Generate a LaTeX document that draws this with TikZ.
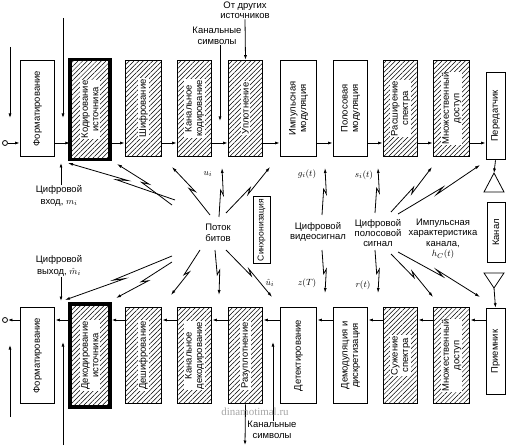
\documentclass[tikz,border=0pt]{standalone}
\usepackage{fontspec}
\setmainfont{Liberation Sans}
\newfontfamily\wmfont{Liberation Serif}
\usetikzlibrary{calc,patterns.meta,arrows.meta}
\newcommand\blk[7]{%
  \node[#2, minimum width=#5, minimum height=#6] (#1) at (#3,#4) {};
  \node[lab] (#1t) at (#1) {#7};}
\newcommand\hblk[7]{%
  \node[#2, minimum width=#5, minimum height=#6] (#1) at (#3,#4) {};
  \node[hlab] (#1t) at (#1) {#7};}
\newcommand\bolt[3]{\draw[boltst] (#1) -- ($(#1)!0.55!(#2)$) -- ($(#1)!0.45!(#2)!3bp!#3:(#2)$) -- (#2);}
\begin{document}
\begin{tikzpicture}[x=1bp,y=-1bp,
  txt/.style={font=\fontsize{9.5}{10.5}\selectfont, align=center, inner sep=0.5bp},
  lab/.style={txt, rotate=90, inner sep=1bp},
  hlab/.style={lab, fill=white},
  box/.style={draw, line width=0.9bp, inner sep=0, fill=white},
  hbox/.style={draw, line width=0.9bp, inner sep=0, pattern={Lines[angle=45,distance=3.3bp,line width=0.5bp]}},
  kbox/.style={draw, line width=3.6bp, inner sep=0, pattern={Lines[angle=45,distance=3.3bp,line width=0.5bp]}},
  conn/.style={-{Latex[length=4.5bp,width=3bp]}, line width=0.8bp},
  boltst/.style={-{Latex[length=5bp,width=3bp]}, line width=0.8bp}]
\useasboundingbox (0,0) rectangle (506,447);
% ---- top row
\blk{fT}{box}{37.5}{108.5}{35}{97}{Форматирование}
\hblk{kT}{kbox}{90}{109.5}{40}{100}{Кодирование\\источника}
\hblk{shT}{hbox}{143.5}{108.5}{37}{97}{Шифрование}
\hblk{kkT}{hbox}{194.5}{108.5}{35}{97}{Канальное\\кодирование}
\hblk{uT}{hbox}{245.5}{108.5}{35}{97}{Уплотнение}
\blk{imT}{box}{298.5}{108.5}{37}{97}{Импульсная\\модуляция}
\blk{poT}{box}{350.5}{108.5}{35}{97}{Полосовая\\модуляция}
\hblk{rsT}{hbox}{400.5}{108.5}{35}{97}{Расширение\\спектра}
\hblk{mdT}{hbox}{451.5}{108.5}{37}{97}{Множественный\\доступ}
\blk{trT}{box}{495.5}{116}{19}{88}{Передатчик}
% ---- bottom row
\blk{fB}{box}{37.5}{355.5}{35}{97}{Форматирование}
\hblk{kB}{kbox}{90}{355.5}{40}{103}{Декодирование\\источника}
\hblk{shB}{hbox}{143.5}{355.5}{37}{97}{Дешифрование}
\hblk{kkB}{hbox}{194.5}{355.5}{35}{97}{Канальное\\декодирование}
\hblk{uB}{hbox}{245.5}{355.5}{35}{97}{Разуплотнение}
\blk{dtB}{box}{298.5}{355.5}{37}{97}{Детектирование}
\blk{dmB}{box}{350.5}{355.5}{35}{97}{Демодуляция и\\дискретизация}
\hblk{ssB}{hbox}{400.5}{355.5}{35}{97}{Сужение\\спектра}
\hblk{mdB}{hbox}{451.5}{355.5}{37}{97}{Множественный\\доступ}
\blk{rcB}{box}{495.5}{351.5}{19}{87}{Приемник}
% ---- middle boxes
\node[box, minimum width=17, minimum height=67] (sync) at (261.5,230) {};
\node[lab, font=\fontsize{8.6}{9.5}\selectfont] (synct) at (sync) {Синхронизация};
\blk{chan}{box}{496}{232.5}{18}{61}{Канал}
% ---- connectors
\coordinate (cyT) at (0,143);
\coordinate (cyB) at (0,320);
\node[circle, draw, line width=0.8bp, minimum size=5bp, inner sep=0] (inT) at (5,143) {};
\node[circle, draw, line width=0.8bp, minimum size=5bp, inner sep=0] (outB) at (5,320) {};
\draw[conn] (inT) -- (fT.west |- cyT);
\foreach \a/\b in {fT/kT,kT/shT,shT/kkT,kkT/uT,uT/imT,imT/poT,poT/rsT,rsT/mdT,mdT/trT}
  \draw[conn] (\a.east |- cyT) -- (\b.west |- cyT);
\foreach \a/\b in {fB/kB,kB/shB,shB/kkB,kkB/uB,uB/dtB,dtB/dmB,dmB/ssB,ssB/mdB,mdB/rcB}
  \draw[conn] (\b.west |- cyB) -- (\a.east |- cyB);
\draw[conn] (fB.west |- cyB) -- (outB);
% ---- antennas
\coordinate (antT) at (494,173);
\draw[conn] (trT.south) -- (antT);
\draw[line width=0.8bp] (antT) -- (484,192) -- (504,192) -- cycle;
\coordinate (antB) at (494,288);
\draw[line width=0.8bp] (antB) -- (484,273) -- (504,273) -- cycle;
\draw[conn] (antB) -- (rcB.north);
% ---- top texts and arrows
\node[txt] (oth) at (245,10) {От других\\источников};
\draw[conn] (oth.south) -- (uT.north);
\node[txt] (chsT) at (217,36) {Канальные\\символы};
\coordinate (chsTe) at (220,121);
\draw[conn] (chsT.south -| chsTe) -- (chsTe);
\coordinate (aL1s) at (10,47);  \coordinate (aL1e) at (10,118);
\draw[conn] (aL1s) -- (aL1e);
\coordinate (aL2s) at (63,18);  \coordinate (aL2e) at (63,118);
\draw[conn] (aL2s) -- (aL2e);
\node[txt, font=\fontsize{9.5}{11.5}\selectfont] (din) at (59,196) {Цифровой\\вход, $m_i$};
\coordinate (dinE) at (61,163);
\draw[conn] (din.north -| dinE) -- (dinE);
\node[txt, font=\fontsize{9.5}{11.5}\selectfont] (dout) at (59,266) {Цифровой\\выход, $\hat m_i$};
\coordinate (doutE) at (61,301);
\draw[conn] (dout.south -| doutE) -- (doutE);
% ---- bottom texts and arrows
\coordinate (bL1s) at (10,417);  \coordinate (bL1e) at (10,345);
\draw[conn] (bL1s) -- (bL1e);
\coordinate (bL2s) at (63,445);  \coordinate (bL2e) at (63,342);
\draw[conn] (bL2s) -- (bL2e);
\coordinate (uBo) at (245,445);
\draw[conn] (uB.south) -- (uBo);
\node[txt] (chsB) at (272,430) {Канальные\\символы};
\coordinate (chsBe) at (273,342);
\draw[conn] (chsB.north -| chsBe) -- (chsBe);
% ---- middle labels
\node[txt] (bits) at (218,233) {Поток\\битов};
\node[txt] (vid) at (318,232) {Цифровой\\видеосигнал};
\node[txt] (pas) at (378,233) {Цифровой\\полосовой\\сигнал};
\node[txt] (imp) at (443,239) {Импульсная\\характеристика\\канала,\\$h_C(t)$};
\node[txt] (lu) at (208,174) {$u_i$};
\node[txt] (lg) at (307,174) {$g_i(t)$};
\node[txt] (ls) at (364,175) {$s_i(t)$};
\node[txt] (lub) at (270,283) {$\hat u_i$};
\node[txt] (lz) at (307,283) {$z(T)$};
\node[txt] (lr) at (363,285) {$r(t)$};
% ---- bolts
\coordinate (t1a) at (175,200); \coordinate (t1b) at (68,163);
\coordinate (t2a) at (172,205); \coordinate (t2b) at (117,164);
\coordinate (t3a) at (210,215); \coordinate (t3b) at (172,167);
\coordinate (t4a) at (226,213); \coordinate (t4b) at (270,167);
\coordinate (tua) at (219,217); \coordinate (tub) at (222,168);
\coordinate (tga) at (322,215); \coordinate (tgb) at (325,168);
\coordinate (tsa) at (375,213); \coordinate (tsb) at (378,168);
\coordinate (r1a) at (391,212); \coordinate (r1b) at (432,167);
\coordinate (r2a) at (398,214); \coordinate (r2b) at (480,165);
\coordinate (b1a) at (172,256); \coordinate (b1b) at (65,300);
\coordinate (b2a) at (172,262); \coordinate (b2b) at (116,298);
\coordinate (b3a) at (200,250); \coordinate (b3b) at (171,295);
\coordinate (b4a) at (226,250); \coordinate (b4b) at (272,297);
\coordinate (bua) at (215,250); \coordinate (bub) at (219,295);
\coordinate (bza) at (322,250); \coordinate (bzb) at (325,293);
\coordinate (bra) at (375,250); \coordinate (brb) at (378,293);
\coordinate (r3a) at (391,254); \coordinate (r3b) at (433,297);
\coordinate (r4a) at (398,252); \coordinate (r4b) at (480,297);
\bolt{t1a}{t1b}{-90} \bolt{t2a}{t2b}{-90} \bolt{t3a}{t3b}{-90} \bolt{t4a}{t4b}{-90}
\bolt{tua}{tub}{-90} \bolt{tga}{tgb}{-90} \bolt{tsa}{tsb}{-90}
\bolt{r1a}{r1b}{-90} \bolt{r2a}{r2b}{-90}
\bolt{b1a}{b1b}{90} \bolt{b2a}{b2b}{90} \bolt{b3a}{b3b}{90} \bolt{b4a}{b4b}{90}
\bolt{bua}{bub}{90} \bolt{bza}{bzb}{90} \bolt{bra}{brb}{90}
\bolt{r3a}{r3b}{90} \bolt{r4a}{r4b}{90}
% ---- watermark
\node[font=\wmfont\fontsize{11}{12}\selectfont, text=black!35] (wm) at (255,412) {dinamotimal.ru};
\end{tikzpicture}
\end{document}
